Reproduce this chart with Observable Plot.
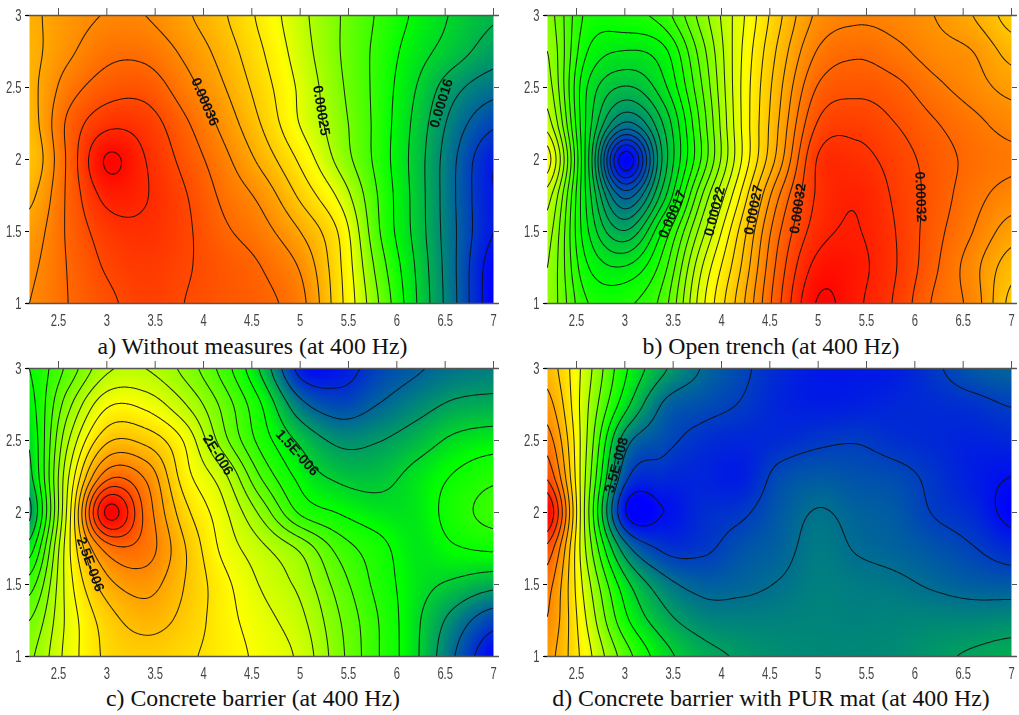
<!DOCTYPE html>
<html><head><meta charset="utf-8">
<script src="https://cdn.jsdelivr.net/npm/d3@7"></script>
<script src="https://cdn.jsdelivr.net/npm/@observablehq/plot@0.6"></script>
<style>
html,body{margin:0;padding:0;background:#fff;width:1019px;height:715px;overflow:hidden}
.p{position:absolute}
.p svg{max-width:none;height:auto;overflow:visible;background:transparent;filter:blur(0.3px)}
.cap{position:absolute;font-family:"Liberation Serif",serif;font-size:23.8px;line-height:24px;color:#111;text-align:center;white-space:nowrap;transform:translateX(-50%)}
</style></head><body>
<script>
const xGrid=[2.2,2.6,3,3.4,3.8,4.2,4.6,5,5.4,5.8,6.2,6.6,7];
const yGrid=[3,2.75,2.5,2.25,2,1.75,1.5,1.25,1];
const xTicks=[2.5,3,3.5,4,4.5,5,5.5,6,6.5,7];
const yTicks=[1,1.5,2,2.5,3];
// values in contour-level units, rows from y=3 down to y=1
const levelsA=[
-1.2,-0.45,0.05,0,-0.8,-1.85,-3.25,-4.7,-5.95,-7.1,-8.2,-9.15,-9.9,
-1.3,-0.2,0.7,0.7,-0.2,-1.4,-2.9,-4.5,-5.95,-7.25,-8.55,-9.55,-10.5,
-1.3,0.5,1.5,1.6,0.45,-0.9,-2.5,-4.2,-5.8,-7.3,-9.0,-10.7,-11.6,
-1.5,1.2,2.7,2.5,1.2,-0.3,-2.05,-4.05,-5.6,-7.3,-9.3,-11.45,-12.8,
-1.85,1.2,4.1,3.0,1.7,0.33,-1.3,-3.2,-5.3,-7.3,-9.45,-11.9,-13.9,
-1.25,1.2,3.3,3.05,2.1,0.8,-0.3,-2.2,-4.2,-7.0,-9.4,-11.95,-14.0,
-0.6,1.15,2.5,2.8,2.2,1.2,0.4,-1.0,-3.1,-6.8,-9.35,-11.9,-14.0,
-0.2,1.05,2.1,2.5,2.1,1.6,1.0,-0.1,-2.8,-6.3,-9.1,-11.9,-14.5,
0,1.0,1.8,2.3,2.0,1.6,1.25,0.35,-2.65,-5.9,-8.95,-11.85,-14.6];
const levelsB=[
-11.5,-15.2,-15.3,-14.5,-11.5,-8.3,-5.2,-2.75,-2.2,-2.4,-3,-4,-5.4,
-11,-15.9,-17.05,-16.3,-12.4,-8.1,-4.7,-1.9,-1.2,-1.7,-2.5,-3,-4.4,
-10.5,-16.9,-19.1,-17.3,-13.0,-8.0,-4.25,-0.9,-0.3,-0.7,-1.7,-2.5,-3.35,
-9.5,-17.1,-22.15,-18.9,-13.6,-8.05,-3.9,0.1,0.65,0,-0.9,-1.7,-2.4,
-7.5,-17.3,-27.6,-19.7,-13.8,-8.1,-3.45,1.1,1.35,0.55,-0.45,-1.3,-1.8,
-9.5,-17.1,-23.35,-18.4,-12,-6.9,-2,1.2,1.9,0.82,-0.4,-1.6,-2.45,
-10.5,-16.7,-19.9,-15.8,-10.4,-5.7,-1.1,1.55,2.05,1.0,-0.6,-2,-3.5,
-11,-15.8,-16.9,-14.4,-9,-5,-0.55,2.4,2.3,1.05,-0.8,-2.6,-4.6,
-11.2,-14.9,-15.2,-13.5,-8.3,-4.4,-0.15,3.1,2.2,0.85,-1.15,-2.4,-5.3];
const levelsC=[
-4,-1.7,0.8,1.0,-0.3,-2.4,-5.2,-8.3,-8.4,-7.6,-7.1,-6.7,-6.5,
-4.4,-0.35,2.8,2.7,1.1,-1.3,-4,-6.7,-7.5,-7,-6.4,-5.85,-5.7,
-4.9,0.9,4.8,4.7,2.9,-0.55,-3.4,-5.2,-6.2,-6.05,-5.5,-4.8,-4.5,
-5.3,1.9,7.6,6.85,3.5,1.35,-2.1,-4.3,-5.2,-5.3,-4.7,-3.9,-3.25,
-6.2,2.4,11.2,7.7,4.4,2.3,-0.3,-3.15,-4.05,-4.6,-4.6,-3.5,-2.6,
-4.5,2.7,7.4,7.5,5.1,2.75,1.25,-0.2,-2.35,-3.6,-4.6,-4.1,-3.85,
-2.5,2.5,5.6,6.4,5.0,3.35,1.9,0.7,-1.45,-3.3,-4.6,-5.2,-5.7,
-1,2.3,4.5,5.4,4.7,3.45,2.4,1.3,-0.9,-2.95,-4.8,-6.4,-7.6,
-0.2,2.4,4.2,4.55,4.2,3.55,2.7,1.75,-0.65,-2.9,-4.85,-7,-8.7];
const levelsD=[
12.6,9.5,6.2,4.15,2.95,2.2,1.55,1.2,1.2,1.3,1.85,2.5,2.8,
13.4,9.25,5.4,2.9,2.35,1.95,1.45,1.3,1.35,1.5,1.6,1.75,2.05,
14.5,9.1,3.5,2.3,1.7,1.5,1.6,1.85,1.95,1.7,1.55,1.4,1.5,
15.8,8.85,2.35,1.6,1.45,1.3,2.25,2.55,2.4,2.25,1.8,1.3,1.0,
18,8.6,1.1,1.0,1.6,1.85,2.55,3.05,2.75,2.55,1.95,1.55,0.75,
15.7,8.9,3.5,1.85,1.85,2.4,2.75,3.25,2.95,2.75,2.45,2.05,1.55,
14.4,9.5,5.4,3.4,2.7,2.8,3.05,3.35,3.25,3.15,2.9,2.65,2.55,
13.95,10,6.3,4.4,3.55,3.4,3.4,3.45,3.4,3.45,3.5,3.5,3.6,
13.4,10.45,7.5,5.4,4.35,3.9,3.65,3.55,3.55,3.6,3.85,4.1,4.3];
const rainbow=["#0000ff","#00ff00","#ffff00","#ff0000"];
const domainA=[-14.6,-8,-3.7,4.3], domainB=[-27.7,-16,-7.5,3.3], domainC=[-8.8,-4.2,3,11.3], domainD=[0.7,6,10.5,18];
const contourA=d3.range(-14,5), contourB=d3.range(-27,4), contourC=d3.range(-8,12), contourD=d3.range(1,18);
const labelsA=[{x:4.015,y:2.40,t:"0.00036",r:67},{x:5.22,y:2.34,t:"0.00025",r:81},{x:6.46,y:2.39,t:"0.00016",r:-73}];
const labelsB=[{x:3.49,y:1.62,t:"0.00017",r:-67},{x:3.93,y:1.64,t:"0.00022",r:-76},{x:4.33,y:1.65,t:"0.00027",r:-79},{x:4.79,y:1.66,t:"0.00032",r:-82},{x:6.06,y:1.74,t:"0.00032",r:88}];
const labelsC=[{x:4.15,y:2.40,t:"2E-006",r:58},{x:4.97,y:2.415,t:"1.5E-006",r:48},{x:2.83,y:1.64,t:"2.5E-006",r:70}];
const labelsD=[{x:2.914,y:2.33,t:"3.5E-008",r:-75}];
const captions=["a) Without measures (at 400 Hz)","b) Open trench (at 400 Hz)","c) Concrete barrier (at 400 Hz)","d) Concrete barrier with PUR mat (at 400 Hz)"];

function bicubic(index,w,h,X,Y,V){
  const nx=xGrid.length,ny=yGrid.length,W=new Float64Array(w*h);
  const x0=X[0],dx=X[1]-X[0],y0=Y[0],dy=Y[nx]-Y[0];
  const cr=(a,b,c,d,t)=>b+0.5*t*(c-a+t*(2*a-5*b+4*c-d+t*(3*(b-c)+d-a)));
  const at=(r,c)=>V[Math.max(0,Math.min(ny-1,r))*nx+Math.max(0,Math.min(nx-1,c))];
  for(let j=0;j<h;j++){
    const v=Math.max(0,Math.min(ny-1,(j+0.5-y0)/dy)),r=Math.min(ny-2,Math.floor(v)),tv=v-r;
    for(let i=0;i<w;i++){
      const u=Math.max(0,Math.min(nx-1,(i+0.5-x0)/dx)),c=Math.min(nx-2,Math.floor(u)),tu=u-c;
      const col=k=>cr(at(r-1,k),at(r,k),at(r+1,k),at(r+2,k),tv);
      W[j*w+i]=cr(col(c-1),col(c),col(c+1),col(c+2),tu);
    }
  }
  return W;
}
function panel(levels,domain,thresholds,labels,caption,left,top,capLeft,capTop,marginLeft,width){
  const rows=[];
  yGrid.forEach((y,r)=>xGrid.forEach((x,c)=>rows.push({x,y,v:levels[r*xGrid.length+c]})));
  const tickFont={fontFamily:"'Liberation Sans',sans-serif",fontSize:17,fill:"#444"};
  const plot=Plot.plot({
    width,height:333,marginLeft,marginRight:width-marginLeft-464,marginTop:15,marginBottom:30,
    style:{background:"transparent"},
    x:{domain:[2.2,7]},y:{domain:[1,3]},
    color:{type:"linear",domain,range:rainbow,interpolate:"rgb"},
    marks:[
      Plot.raster(rows,{x:"x",y:"y",fill:"v",x1:2.2,x2:7,y1:3,y2:1,interpolate:bicubic,pixelSize:1}),
      Plot.contour(rows,{x:"x",y:"y",value:"v",x1:2.1,x2:7.1,y1:3.1,y2:0.9,interpolate:bicubic,pixelSize:1,thresholds,fill:"none",stroke:"#111",strokeWidth:1.05,strokeOpacity:0.9,clip:true}),
      Plot.text(labels,{x:"x",y:"y",text:"t",rotate:"r",fontFamily:"'Liberation Sans',sans-serif",fontSize:14,fontWeight:"bold",fill:"#111"}),
      Plot.ruleY([1,3],{x1:2.17,x2:7.06,stroke:"#555",strokeWidth:1.3}),
      Plot.axisX(xTicks,{anchor:"bottom",tickSize:0,tickPadding:10,label:null,tickFormat:d=>String(d),...tickFont}),
      Plot.axisX(xTicks,{anchor:"top",tickSize:8,label:null,tickFormat:()=>"",stroke:"#555"}),
      Plot.axisY(yTicks,{anchor:"left",tickSize:4,tickPadding:4,label:null,tickFormat:d=>String(d),...tickFont}),
      Plot.axisY(yTicks,{anchor:"right",tickSize:5,label:null,tickFormat:()=>"",stroke:"#555"})
    ]
  });
  plot.querySelectorAll('g[aria-label$="tick label"] text').forEach(t=>{
    t.setAttribute("transform",(t.getAttribute("transform")||"")+" scale(0.66,1)");
  });
  const box=document.createElement("div");
  box.className="p";box.style.left=left+"px";box.style.top=top+"px";
  box.appendChild(plot);document.body.appendChild(box);
  const cap=document.createElement("div");
  cap.className="cap";cap.textContent=caption;cap.style.left=capLeft+"px";cap.style.top=capTop+"px";
  document.body.appendChild(cap);
}
panel(levelsA,domainA,contourA,labelsA,captions[0],0,0,252.5,334,29,510);
panel(levelsB,domainB,contourB,labelsB,captions[1],518,0,771,334,29,501);
panel(levelsC,domainC,contourC,labelsC,captions[2],0,353,253,686,29,510);
panel(levelsD,domainD,contourD,labelsD,captions[3],518,353,771,686,29,501);
</script>
</body></html>
